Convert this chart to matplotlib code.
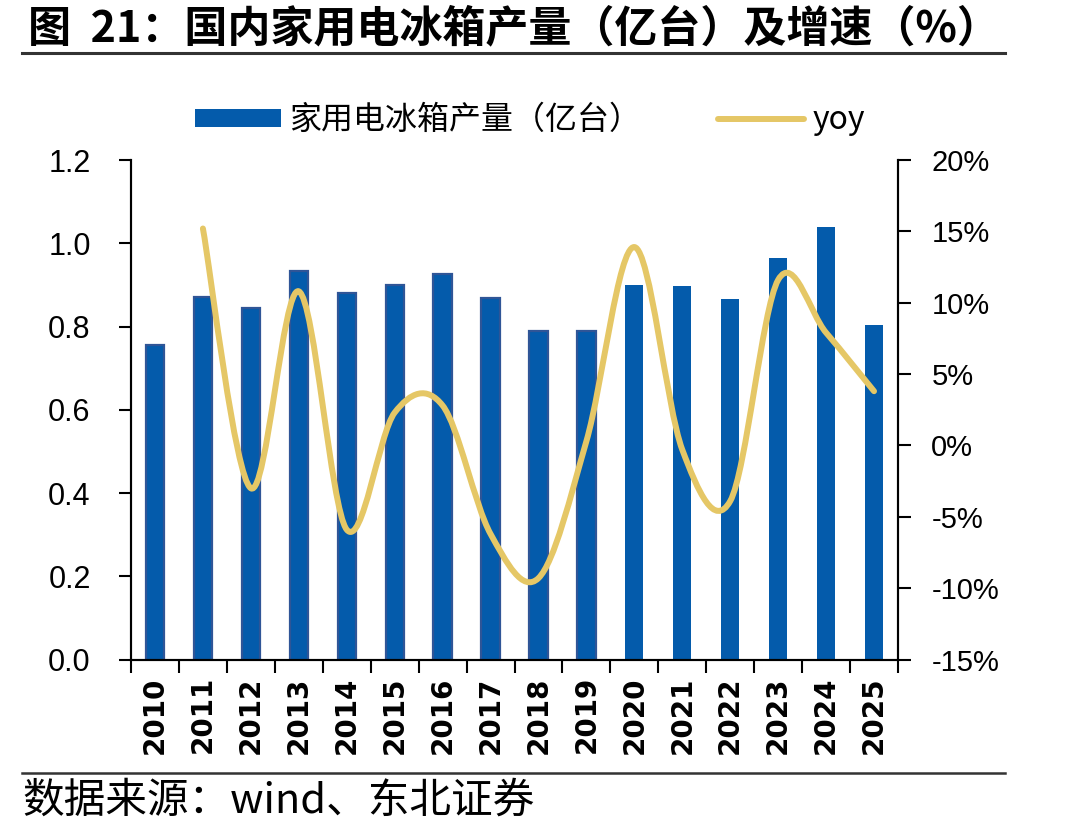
import numpy as np
import matplotlib
matplotlib.use("Agg")
import matplotlib.pyplot as plt
from matplotlib.path import Path
from matplotlib.patches import PathPatch, Patch
from matplotlib.lines import Line2D

plt.rcParams['font.family'] = ['Liberation Sans', 'Noto Sans CJK SC', 'DejaVu Sans']

# data
years = ['2010', '2011', '2012', '2013', '2014', '2015', '2016', '2017',
         '2018', '2019', '2020', '2021', '2022', '2023', '2024', '2025']
output = [0.755, 0.870, 0.845, 0.933, 0.880, 0.900, 0.925, 0.868,
          0.788, 0.790, 0.900, 0.898, 0.865, 0.965, 1.040, 0.803]
yoy_years = years[1:]
yoy = [15.2, -3.0, 10.8, -5.9, 2.3, 2.8, -6.2,
       -9.3, 0.3, 13.9, -0.3, -3.9, 11.6, 7.9, 3.8]

bar_color = '#045BAB'
edge_color = '#2F5597'
line_color = '#E5C766'

fig = plt.figure(figsize=(10.9, 8.38), dpi=100)
ax = fig.add_axes([131 / 1090, 1 - 659.5 / 838, 767 / 1090, 499.5 / 838])
ax2 = ax.twinx()

x = np.arange(len(years))
# first ten bars carry a thin darker outline in the original
edges = [edge_color] * 10 + ['none'] * 6
ax.bar(x, output, width=0.38, color=bar_color, edgecolor=edges, linewidth=1.6, zorder=2)

ax.set_xlim(-0.5, len(years) - 0.5)
ax.set_ylim(0, 1.2)
ax.set_yticks(np.arange(0, 1.21, 0.2))
ax.set_yticklabels(['%.1f' % v for v in np.arange(0, 1.21, 0.2)], fontsize=22)
ax.set_xticks(x)
ax.set_xticklabels(years, rotation=90, fontsize=20, fontweight='bold',
                   family='DejaVu Sans')
ax.set_xticks(np.arange(-0.5, len(years), 1), minor=True)
ax.tick_params(axis='x', which='major', length=0, pad=12)
ax.tick_params(axis='x', which='minor', length=9, width=1.5, direction='out')
ax.tick_params(axis='y', length=9, width=1.5, direction='out', pad=20)

ax2.set_ylim(-15, 20)
ax2.set_yticks(np.arange(-15, 21, 5))
ax2.set_yticklabels(['%d%%' % v for v in np.arange(-15, 21, 5)], fontsize=21)
ax2.tick_params(axis='y', length=9, width=1.5, direction='out', pad=15)

for a in (ax, ax2):
    a.spines['top'].set_visible(False)
    for s in ('left', 'right', 'bottom'):
        a.spines[s].set_linewidth(1.5)

# smoothed yoy line (Catmull-Rom style bezier, like Excel's smoothed line)
px = np.arange(1, len(years), dtype=float)
py = np.array(yoy, dtype=float)
n = len(px)
verts = [(px[0], py[0])]
codes = [Path.MOVETO]
for i in range(n - 1):
    p0 = i - 1 if i > 0 else i
    p3 = i + 2 if i + 2 < n else i + 1
    c1 = (px[i] + (px[i + 1] - px[p0]) / 6, py[i] + (py[i + 1] - py[p0]) / 6)
    c2 = (px[i + 1] - (px[p3] - px[i]) / 6, py[i + 1] - (py[p3] - py[i]) / 6)
    verts += [c1, c2, (px[i + 1], py[i + 1])]
    codes += [Path.CURVE4] * 3
curve = PathPatch(Path(verts, codes), fill=False, edgecolor=line_color,
                  linewidth=4.3, capstyle='round', joinstyle='round', zorder=3)
ax2.add_patch(curve)

handles = [Patch(facecolor=bar_color, edgecolor='none'),
           Line2D([], [], color=line_color, linewidth=4.3, solid_capstyle='round')]
fig.legend(handles, ['家用电冰箱产量（亿台）', 'yoy'], loc='center',
           bbox_to_anchor=(530 / 1090, 1 - 120 / 838), ncol=2, frameon=False,
           handlelength=2.7, handleheight=0.5, columnspacing=2.4,
           handletextpad=0.25, prop={'family': ['Noto Sans CJK SC'], 'size': 23})

# title, rules and source note
fig.text(28 / 1090, 1 - 28 / 838, '图  21：国内家用电冰箱产量（亿台）及增速（%）',
         fontsize=31, fontweight='bold', family=['Noto Sans CJK SC'],
         ha='left', va='center')
fig.add_artist(Line2D([22 / 1090, 1005 / 1090], [1 - 53 / 838, 1 - 53 / 838],
                      color='#333333', linewidth=2.2))
fig.add_artist(Line2D([22 / 1090, 1005 / 1090], [1 - 773 / 838, 1 - 773 / 838],
                      color='#333333', linewidth=1.8))
fig.text(22 / 1090, 1 - 801 / 838, '数据来源：wind、东北证券', fontsize=30,
         family=['Noto Sans CJK SC'], ha='left', va='center')

fig.savefig('out.png', dpi=100)
